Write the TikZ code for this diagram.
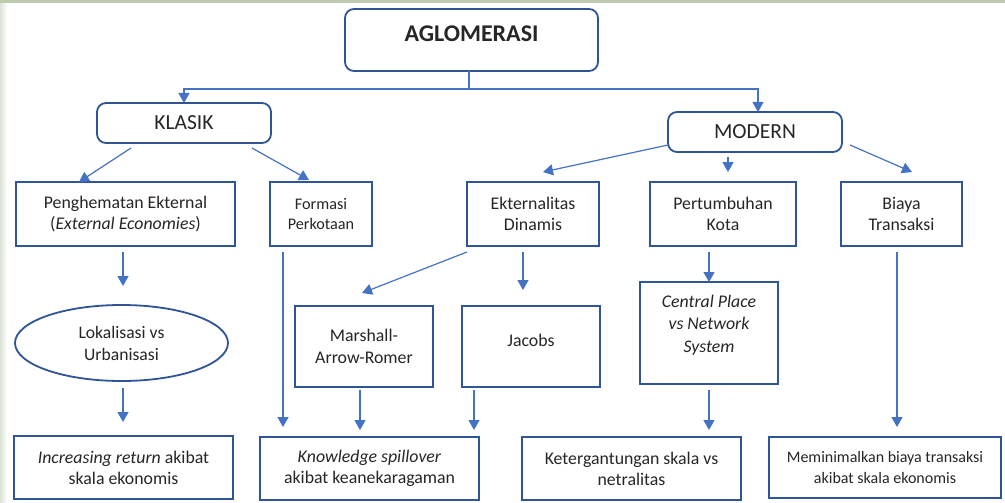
\documentclass[tikz,border=0pt]{standalone}
\usepackage{fontspec}
\setmainfont{Carlito}
\usetikzlibrary{arrows.meta,calc,shapes.geometric}
\definecolor{boxblue}{HTML}{2F5597}
\definecolor{arrblue}{HTML}{4472C4}
\definecolor{txt}{HTML}{262626}
\definecolor{sage}{HTML}{BDCBB1}
\definecolor{sagel}{HTML}{DCE3D6}
\begin{document}
\begin{tikzpicture}[x=1pt,y=-1pt,
  every node/.style={text=txt, align=center, outer sep=0pt, font=\fontsize{17.8}{21}\selectfont},
  rbox/.style={draw=boxblue, line width=1.8pt, rounded corners=9pt, fill=white, inner sep=0pt},
  sbox/.style={draw=boxblue, line width=1.8pt, fill=white, inner sep=0pt},
  ebox/.style={ellipse, draw=boxblue, line width=1.8pt, fill=white, inner sep=0pt},
  arr/.style={draw=arrblue, line width=1.2pt, -{Triangle[length=10pt,width=11pt]}},
  ln/.style={draw=arrblue, line width=1.2pt}]
\useasboundingbox (0,0) rectangle (1005,503);
\fill[white] (0,0) rectangle (1005,503);
\shade[left color=sagel, right color=white] (0,0) rectangle (7,503);
\fill[sage] (0,0) rectangle (1005,3);

% nodes
\node[rbox, minimum width=253, minimum height=62, text depth=12pt, font=\fontsize{24}{28}\selectfont\bfseries] (aglo) at (471.5,40) {AGLOMERASI};
\node[rbox, minimum width=174, minimum height=40, font=\fontsize{21.5}{24}\selectfont] (klasik) at (184,123) {KLASIK};
\node[rbox, minimum width=174, minimum height=40, font=\fontsize{21.5}{24}\selectfont] (modern) at (755,132) {MODERN};

\node[sbox, minimum width=219, minimum height=64] (pen) at (125.5,214) {Penghematan Ekternal\\(\textit{External Economies})};
\node[sbox, minimum width=102, minimum height=64, font=\fontsize{16.2}{20}\selectfont] (form) at (321,214) {Formasi\\Perkotaan};
\node[sbox, minimum width=132, minimum height=64] (ekst) at (533,214) {Ekternalitas\\Dinamis};
\node[sbox, minimum width=146, minimum height=64] (pert) at (723,214) {Pertumbuhan\\Kota};
\node[sbox, minimum width=121, minimum height=64] (biaya) at (901.5,214) {Biaya\\Transaksi};

\node[ebox, minimum width=213, minimum height=76, font=\fontsize{17.6}{22}\selectfont] (lok) at (121.5,343) {Lokalisasi vs\\Urbanisasi};
\node[sbox, minimum width=138, minimum height=81, font=\fontsize{17.8}{22}\selectfont] (mar) at (364,346.5) {Marshall-\\Arrow-Romer};
\node[sbox, minimum width=138, minimum height=81, text depth=12pt] (jac) at (531,346.5) {Jacobs};
\node[sbox, minimum width=138, minimum height=102, text depth=19pt, font=\fontsize{17.8}{22.5}\selectfont\itshape] (cent) at (709,333) {Central Place\\vs Network\\System};

\node[sbox, minimum width=219, minimum height=63] (inc) at (123.5,467.5) {\textit{Increasing return} akibat\\skala ekonomis};
\node[sbox, minimum width=219, minimum height=63] (know) at (369.5,468.5) {\textit{Knowledge spillover}\\akibat keanekaragaman};
\node[sbox, minimum width=219, minimum height=63] (ket) at (631.5,468.5) {Ketergantungan skala vs\\netralitas};
\node[sbox, minimum width=232, minimum height=61, font=\fontsize{16}{21}\selectfont] (mem) at (885,467.5) {Meminimalkan biaya transaksi\\akibat skala ekonomis};

% connectors
\coordinate (j) at (469,89);
\draw[ln] (aglo.south -| j) -- (j);
\draw[arr] (j) -| (klasik.north);
\draw[arr] (j) -| ($(modern.north)+(3,0)$);

\draw[arr] ($(klasik.south)+(-53,5)$) -- ($(pen.north)+(-46.5,0)$);
\draw[arr] ($(klasik.south)+(68,5)$) -- ($(form.north)+(-12,-2)$);

\draw[arr] ($(modern.south west)+(0,-7)$) -- ($(ekst.north)+(10,-10)$);
\draw[arr] ($(modern.south)+(-27,5)$) -- ($(pert.north)+(5,-10)$);
\draw[arr] ($(modern.south east)+(8,-7)$) -- ($(biaya.north)+(10.5,-10)$);

\draw[arr] ($(pen.south)+(-2.5,6)$) -- ($(lok.north)+(1.5,-19)$);
\draw[arr] ($(lok.south)+(1.5,7)$) -- ($(inc.north)+(-0.5,-14)$);
\draw[arr] ($(form.south)+(-38,6)$) -- ($(know.north)+(-86.5,-10)$);

\draw[arr] ($(ekst.south west)+(0,6)$) -- ($(mar.north)+(-2,-13)$);
\draw[arr] ($(ekst.south)+(-10,6)$) -- ($(jac.north)+(-8,-16)$);
\draw[arr] ($(mar.south)+(-4,3)$) -- ($(know.north)+(-9.5,-7)$);
\draw[arr] ($(jac.south west)+(12,3)$) -- ($(know.north)+(104.5,-7)$);

\draw[arr] ($(pert.south)+(-14,6)$) -- (cent.north);
\draw[arr] ($(cent.south)+(0,6)$) -- ($(ket.north)+(77.5,-7)$);
\draw[arr] ($(biaya.south)+(-4.5,6)$) -- ($(mem.north)+(12,-10)$);
\end{tikzpicture}
\end{document}
